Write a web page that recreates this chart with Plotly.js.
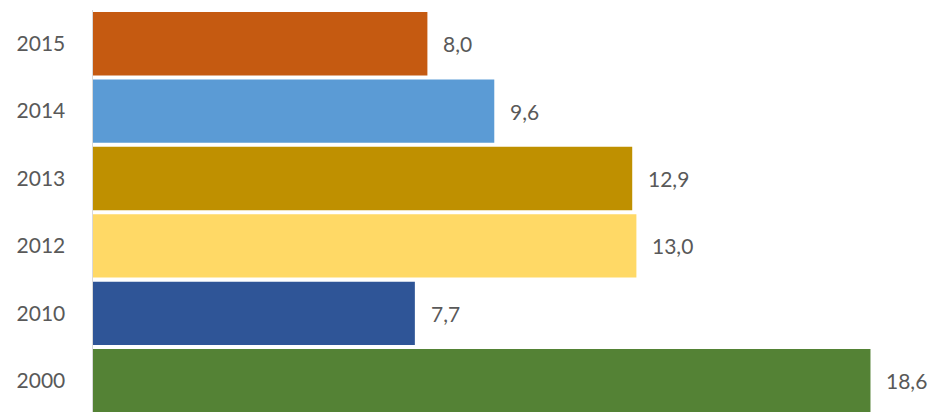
<!DOCTYPE html>
<html>
<head>
<meta charset="utf-8">
<script src="https://cdn.plot.ly/plotly-3.0.1.min.js"></script>
<style>html,body{margin:0;padding:0;background:#fff;}#chart{width:929px;height:412px;}</style>
</head>
<body>
<div id="chart"></div>
<script>
const years = ['2000', '2010', '2012', '2013', '2014', '2015'];
const values = [18.6, 7.7, 13.0, 12.9, 9.6, 8.0];
const colors = ['#548235', '#2F5597', '#FFD966', '#BF9000', '#5B9BD5', '#C55A11'];

const fmt = v => v.toFixed(1).replace('.', ',');

const trace = {
  type: 'bar',
  orientation: 'h',
  y: years,
  x: values,
  marker: { color: colors, line: { width: 0 } },
  hoverinfo: 'none'
};

const annotations = years.map((y, i) => ({
  x: values[i],
  y: i,
  xref: 'x',
  yref: 'y',
  text: fmt(values[i]),
  showarrow: false,
  xanchor: 'left',
  yanchor: 'middle',
  xshift: 14,
  font: { family: 'Lato, "Open Sans", sans-serif', size: 21, color: '#595959' }
}));

const layout = {
  width: 929,
  height: 412,
  margin: { l: 93, r: 0, t: 10, b: 0 },
  paper_bgcolor: '#ffffff',
  plot_bgcolor: '#ffffff',
  showlegend: false,
  bargap: 0.06,
  separators: ',.',
  xaxis: {
    range: [0, 20],
    showgrid: false,
    zeroline: false,
    showline: false,
    showticklabels: false,
    ticks: '',
    fixedrange: true
  },
  yaxis: {
    type: 'category',
    categoryorder: 'array',
    categoryarray: years,
    range: [-0.464, 5.5],
    showgrid: false,
    zeroline: false,
    showline: true,
    linecolor: '#d9d9d9',
    linewidth: 1.5,
    ticks: 'outside',
    ticklen: 22,
    tickcolor: 'rgba(0,0,0,0)',
    tickfont: { family: 'Lato, "Open Sans", sans-serif', size: 21, color: '#595959' },
    fixedrange: true
  },
  annotations: annotations
};

Plotly.newPlot('chart', [trace], layout, { displayModeBar: false, staticPlot: true });
</script>
</body>
</html>
